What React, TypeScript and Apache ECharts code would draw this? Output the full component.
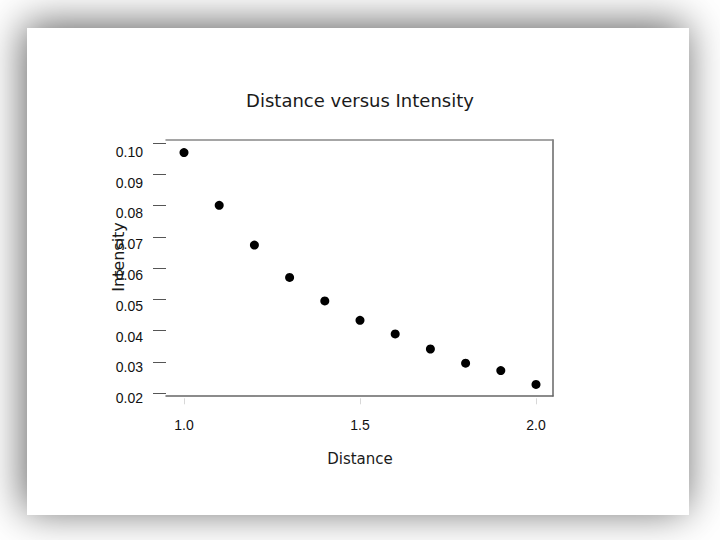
import React, { useEffect, useRef } from "react";
import * as echarts from "echarts";

const distance = [1.0, 1.1, 1.2, 1.3, 1.4, 1.5, 1.6, 1.7, 1.8, 1.9, 2.0];
const intensity = [0.0997, 0.0826, 0.0697, 0.0592, 0.0516, 0.0453, 0.0409, 0.036, 0.0314, 0.029, 0.0245];
const xTicks = [1.0, 1.5, 2.0];
const yTicks = [0.02, 0.03, 0.04, 0.05, 0.06, 0.07, 0.08, 0.09, 0.1];

const TITLE = "Distance versus Intensity";
const X_NAME = "Distance";
const Y_NAME = "Intensity";

export default function App() {
  const ref = useRef<HTMLDivElement>(null);
  useEffect(() => {
    if (!ref.current) return;
    const chart = echarts.init(ref.current, undefined, { renderer: "svg" });
    const labelFont = "'Liberation Sans', Arial, sans-serif";
    const nameFont = "'DejaVu Sans', sans-serif";
    const frameAxis = (extra: any) => ({
      type: "value",
      axisLine: { show: true, onZero: false, lineStyle: { color: "#666", width: 1.5 } },
      axisTick: { show: false },
      axisLabel: { show: false },
      splitLine: { show: false },
      ...extra,
    });
    chart.setOption({
      animation: false,
      backgroundColor: "#ffffff",
      title: {
        text: TITLE,
        left: "center",
        top: 86,
        textStyle: { fontFamily: nameFont, fontSize: 18, fontWeight: "normal", color: "#1a1a1a" },
      },
      graphic: [
        {
          type: "rect",
          z: -10,
          shape: { x: 27, y: 28, width: 662, height: 487 },
          style: {
            fill: "#ffffff",
            shadowBlur: 42,
            shadowColor: "rgba(0,0,0,0.62)",
            shadowOffsetX: -3,
            shadowOffsetY: -4,
          },
        },
        {
          type: "text",
          x: 118,
          y: 257,
          rotation: Math.PI / 2,
          style: {
            text: Y_NAME,
            fontFamily: nameFont,
            fontSize: 16,
            fill: "#1a1a1a",
            align: "center",
            verticalAlign: "middle",
          },
        },
      ],
      grid: [
        { left: 184, right: 184, top: 151.7, bottom: 141.7 },
        { left: 166, right: 167, top: 140, bottom: 144 },
        { left: 166, right: 167, top: 143, bottom: 147 },
      ],
      xAxis: [
        {
          gridIndex: 0,
          type: "value",
          min: xTicks[0],
          max: xTicks[xTicks.length - 1],
          interval: 0.5,
          axisLine: { show: false, onZero: false },
          axisTick: { show: true, length: 6, lineStyle: { color: "#d8d8d8" } },
          splitLine: { show: false },
          axisLabel: {
            margin: 20,
            fontFamily: labelFont,
            fontSize: 14,
            color: "#111",
            formatter: (v: number) => v.toFixed(1),
          },
          name: X_NAME,
          nameLocation: "middle",
          nameGap: 53,
          nameTextStyle: { fontFamily: nameFont, fontSize: 15, color: "#1a1a1a" },
        },
        frameAxis({ gridIndex: 1, position: "bottom", min: 0, max: 1 }),
        frameAxis({
          gridIndex: 1,
          position: "top",
          min: 0,
          max: 1,
          axisLine: { show: true, onZero: false, lineStyle: { color: "#888", width: 1.5 } },
        }),
        { gridIndex: 2, type: "value", show: false, min: 0, max: 1 },
      ],
      yAxis: [
        {
          gridIndex: 0,
          type: "value",
          min: yTicks[0],
          max: yTicks[yTicks.length - 1],
          interval: 0.01,
          axisLine: { show: false, onZero: false },
          axisTick: { show: false },
          splitLine: { show: false },
          axisLabel: {
            margin: 41,
            fontFamily: labelFont,
            fontSize: 14,
            color: "#111",
            formatter: (v: number) => v.toFixed(2),
          },
        },
        frameAxis({ gridIndex: 1, position: "right", min: 0, max: 1 }),
        {
          gridIndex: 2,
          type: "value",
          position: "left",
          min: yTicks[0],
          max: yTicks[yTicks.length - 1],
          interval: 0.01,
          axisLine: { show: false, onZero: false },
          axisTick: { show: true, length: 13, lineStyle: { color: "#555", width: 1 } },
          axisLabel: { show: false },
          splitLine: { show: false },
        },
      ],
      series: [
        {
          type: "scatter",
          xAxisIndex: 0,
          yAxisIndex: 0,
          data: distance.map((d, i) => [d, intensity[i]]),
          symbol: "circle",
          symbolSize: 9,
          itemStyle: { color: "#000", opacity: 1 },
        },
      ],
    });
    return () => chart.dispose();
  }, []);
  return (
    <div
      ref={ref}
      style={{ position: "absolute", left: 0, top: 0, width: 720, height: 540 }}
    />
  );
}
